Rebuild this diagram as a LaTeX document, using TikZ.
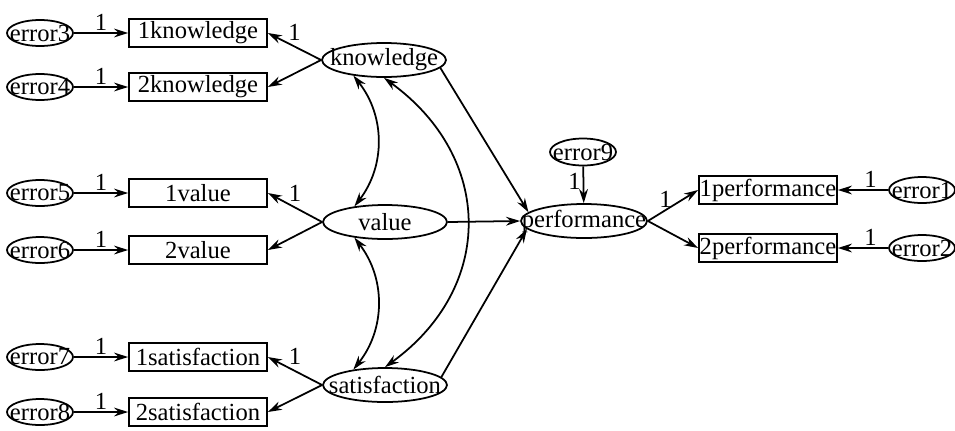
\documentclass[tikz,border=0pt]{standalone}
\usepackage{fontspec}
\setmainfont{Liberation Serif}
\usetikzlibrary{shapes.geometric,arrows.meta}

\begin{document}
\begin{tikzpicture}[x=0.02cm,y=-0.02cm,line width=1pt,
    font=\fontsize{14}{16}\selectfont,
    >={Stealth[length=8pt,width=5pt]},
    obs/.style={draw,rectangle,minimum width=2.76cm,minimum height=0.56cm,inner sep=0pt},
    lat/.style={draw,ellipse,minimum width=2.48cm,minimum height=0.68cm,inner xsep=-1cm,inner ysep=0pt},
    err/.style={draw,ellipse,minimum width=1.32cm,minimum height=0.52cm,inner xsep=-1cm,inner ysep=0pt},
    one/.style={inner sep=1pt}]
    \useasboundingbox (0,0) rectangle (955,430);
    % Latent variables
    \node[lat] (know) at (384,60) {knowledge};
    \node[lat] (val) at (385,222) {value};
    \node[lat] (sat) at (385,385) {satisfaction};
    \node[lat,minimum width=2.52cm] (perf) at (584,221) {performance};
    \node[err,minimum height=0.54cm] (e9) at (583,152) {error9};
    % Indicators on the left and their errors
    \foreach \n/\t/\y/\e in {k1/1knowledge/33/3,k2/2knowledge/87/4,v1/1value/193/5,
        v2/2value/250/6,s1/1satisfaction/357/7,s2/2satisfaction/412/8} {
      \node[obs] (\n) at (198,\y) {\t};
      \node[err] (e\e) at (40,\y) {error\e};
      \draw[->] (e\e) -- node[midway,above,one] {1} (\n);
    }
    % Indicators of performance and their errors
    \foreach \n/\t/\y/\e in {p1/1performance/190/1,p2/2performance/248/2} {
      \node[obs] (\n) at (768,\y) {\t};
      \node[err] (e\e) at (922,\y) {error\e};
      \draw[->] (e\e) -- node[pos=0.35,above,one] {1} (\n);
    }
    % Loadings
    \draw[->] (know.west) -- node[midway,above=2pt,one] {1} (k1.east);
    \draw[->] (know.west) -- (k2.east);
    \draw[->] (val.west) -- node[midway,above=2pt,one] {1} (v1.east);
    \draw[->] (val.west) -- (v2.east);
    \draw[->] (sat.west) -- node[midway,above=2pt,one] {1} (s1.east);
    \draw[->] (sat.west) -- (s2.east);
    \draw[->] (perf.east) -- node[pos=0.35,above,one] {1} (p1.west);
    \draw[->] (perf.east) -- (p2.west);
    \draw[->] (e9) -- node[pos=0.4,left,one] {1} (perf);
    % Paths to performance
    \draw[->] (know.-8) -- (perf.171);
    \draw[->] (val.east) -- (perf.west);
    \draw[->] (sat.8) -- (perf.188);
    % Covariances
    \draw[<->] (know.207) to[bend left=38] (val.153);
    \draw[<->] (val.207) to[bend left=38] (sat.154);
    \draw[<->] (know.south) to[out=-36,in=36,looseness=1.2] (sat.north);
\end{tikzpicture}
\end{document}
